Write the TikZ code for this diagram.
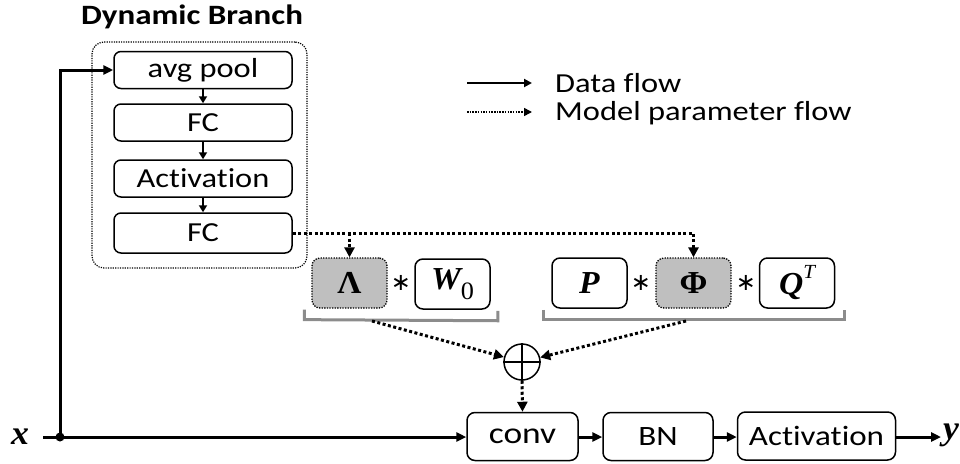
\documentclass[tikz,border=0pt]{standalone}
\usepackage{fontspec}
\setmainfont{Carlito}[FakeStretch=1.18, Ligatures=NoCommon]
\newfontfamily\varfont{Liberation Serif}[FakeStretch=1.05]
\newfontfamily\opfont{DejaVu Sans}
\usetikzlibrary{arrows.meta,calc}

\definecolor{shade}{HTML}{BFBFBF}
\definecolor{brace}{HTML}{8C8C8C}

% bold italic matrix symbols, upright bold Greek, plain sub/superscripts
\newcommand{\bvar}[1]{{\varfont\bfseries\itshape #1}}
\newcommand{\bgreek}[1]{{\varfont\bfseries #1}}
\newcommand{\lowidx}[1]{\raisebox{-0.32em}{\fontsize{25}{26}\selectfont\varfont #1}}
\newcommand{\highidx}[1]{\raisebox{0.5em}{\fontsize{20}{22}\selectfont\varfont\itshape #1}}

\begin{document}
\begin{tikzpicture}[x=1pt,y=-1pt,
  box/.style={draw, line width=1.5pt, rounded corners=7pt, inner sep=0pt,
    minimum width=178pt, minimum height=37pt, font=\fontsize{27.5}{30}\selectfont},
  opbox/.style={draw, line width=1.5pt, rounded corners=8pt, inner sep=0pt,
    minimum height=48pt, font=\fontsize{28}{32}\selectfont},
  mbox/.style={draw, line width=1.5pt, rounded corners=8pt, inner sep=0pt,
    minimum width=75pt, minimum height=50pt, font=\fontsize{32}{34}\selectfont},
  gbox/.style={mbox, fill=shade, line width=1.3pt, dash pattern=on 1.3pt off 1.3pt},
  data/.style={line width=3pt, -{Triangle[length=10pt,width=9pt]}},
  thin data/.style={line width=2pt, -{Triangle[length=7pt,width=8pt]}},
  param/.style={line width=3pt, dash pattern=on 3pt off 2.5pt,
    -{Triangle[length=10pt,width=10pt]}},
  brk/.style={draw=brace, line width=3pt},
  lbl/.style={font=\fontsize{27.5}{30}\selectfont, anchor=west, inner sep=0pt},
  op/.style={font=\fontsize{24}{26}\selectfont\opfont, inner sep=0pt},
  var/.style={font=\fontsize{34}{36}\selectfont, inner sep=0pt}
]
\useasboundingbox (0,0) rectangle (960,463);

% dynamic branch
\node[font=\fontsize{28}{30}\selectfont\bfseries] (title) at (192,17) {Dynamic Branch};
\node[draw, line width=1.2pt, dash pattern=on 1.2pt off 1.2pt, rounded corners=12pt,
  minimum width=215pt, minimum height=226pt] (frame) at (199.5,155) {};
\node[box] (pool) at (203,70) {avg pool};
\node[box] (fc1) at (203,122.5) {FC};
\node[box] (act1) at (203,178.5) {Activation};
\node[box, minimum height=40pt] (fc2) at (203,233) {FC};
\draw[thin data] (pool) -- (fc1);
\draw[thin data] (fc1) -- (act1);
\draw[thin data] (act1) -- (fc2);

% weight decompositions
\node[gbox] (lam) at (349.5,283) {\bgreek{Λ}};
\node[op] (s1) at (401,283) {∗};
\node[mbox] (w0) at (452.5,284) {\bvar{W}\lowidx{0}};
\node[mbox] (pm) at (589.5,283) {\bvar{P}};
\node[op] (s2) at (641,283) {∗};
\node[gbox] (phi) at (693.5,283) {\bgreek{Φ}};
\node[op] (s3) at (746,283) {∗};
\node[mbox] (qm) at (797,283) {\bvar{Q}\highidx{T}};

\draw[brk] ($(lam.south west)+(-7,1)$) -- ($(lam.south west)+(-7,11)$)
  -- ($(w0.south east)+(7,11)$) -- ($(w0.south east)+(7,1)$);
\draw[brk] ($(pm.south west)+(-8,1)$) -- ($(pm.south west)+(-8,11)$)
  -- ($(qm.south east)+(9,11)$) -- ($(qm.south east)+(9,1)$);

% generated parameters
\draw[param] (fc2.east) -| (phi.north);
\coordinate (tap) at (lam.north |- fc2.east);
\draw[param] (tap) -- (lam.north);

% sum of the two kernels
\node[draw, circle, line width=1.5pt, minimum size=36pt, inner sep=0pt] (sum) at (522,362) {};
\draw[line width=1.5pt] (sum.north) -- (sum.south) (sum.west) -- (sum.east);
\coordinate (b1) at (372,321);
\coordinate (b2) at (686,321);
\draw[param] (b1) -- (sum);
\draw[param] (b2) -- (sum);

% main path
\node[opbox, minimum width=111pt, font=\fontsize{30}{34}\selectfont] (conv) at (522.5,436.5) {conv};
\node[opbox, minimum width=110pt] (bn) at (658,436.5) {BN};
\node[opbox, minimum width=158pt] (act2) at (816.5,436) {Activation};
\draw[param] (sum.south) -- (conv.north);

\node[var] (xin) at (20,437) {\bvar{x}};
\node[var] (yout) at (951,435) {\bvar{y}};
\coordinate (xs) at (43,437);
\coordinate (jn) at (60,437);
\coordinate (ye) at (941,437);
\draw[data] (xs) -- (conv.west |- xs);
\draw[data] (jn) |- (pool.west);
\fill (jn) circle (4.5pt);
\draw[data] (conv.east |- xs) -- (bn.west |- xs);
\draw[data] (bn.east |- xs) -- (act2.west |- xs);
\draw[data] (act2.east |- xs) -- (ye);

% legend
\coordinate (la) at (467,83);
\coordinate (lb) at (532,83);
\coordinate (lc) at (467,112);
\coordinate (ld) at (532,112);
\draw[line width=2.5pt, -{Triangle[length=8pt,width=8pt]}] (la) -- (lb);
\draw[line width=1.5pt, dash pattern=on 1.5pt off 1.2pt, -{Triangle[length=8pt,width=8pt]}] (lc) -- (ld);
\node[lbl] (l1) at (555,83) {Data flow};
\node[lbl] (l2) at (555,113) {Model parameter flow};
\end{tikzpicture}
\end{document}
